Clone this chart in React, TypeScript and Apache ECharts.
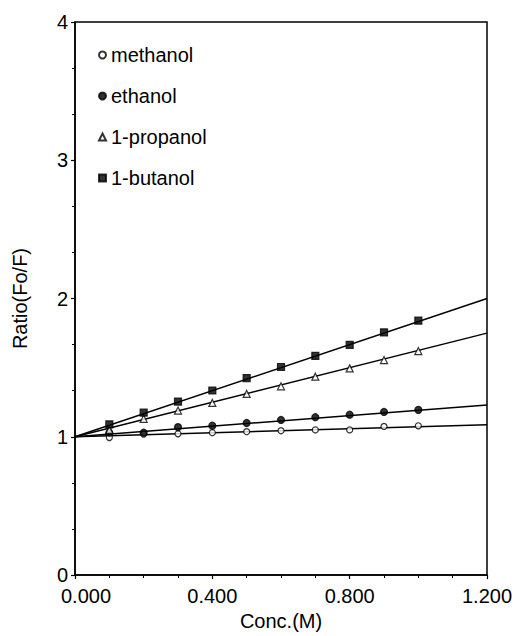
import React, { useEffect, useRef } from "react";
import * as echarts from "echarts";

const conc = [0.1, 0.2, 0.3, 0.4, 0.5, 0.6, 0.7, 0.8, 0.9, 1.0];
const methanol = [0.995, 1.02, 1.022, 1.03, 1.037, 1.044, 1.05, 1.05, 1.075, 1.08];
const ethanol = [1.03, 1.03, 1.07, 1.08, 1.1, 1.122, 1.142, 1.16, 1.18, 1.195];
const propanol = [1.05, 1.13, 1.19, 1.245, 1.31, 1.365, 1.435, 1.495, 1.555, 1.62];
const butanol = [1.09, 1.175, 1.255, 1.335, 1.425, 1.505, 1.585, 1.665, 1.755, 1.84];

// fitted straight lines: value at conc 0 and at conc 1.2
const fitStart = [1.0, 1.0, 1.0, 1.0];
const fitEnd = [1.087, 1.23, 1.75, 2.0];
const fitRange = [0, 1.2];

const seriesNames = ["methanol", "ethanol", "1-propanol", "1-butanol"];
const xTicks = [0, 0.4, 0.8, 1.2];
const yTicks = [0, 1, 2, 3, 4];

const FONT = "Liberation Sans";

export default function App() {
  const ref = useRef<HTMLDivElement>(null);
  useEffect(() => {
    if (!ref.current) return;
    const chart = echarts.init(ref.current, null, { renderer: "svg" });
    const allData = [methanol, ethanol, propanol, butanol];
    const symbols = ["circle", "circle", "triangle", "rect"];
    const sizes = [6, 7, 7, 7];
    const fills = ["#ffffff", "#000000", "#ffffff", "#000000"];
    const lineSeries = seriesNames.map((n, i) => ({
      name: n + "-fit",
      type: "line",
      data: [
        [fitRange[0], fitStart[i]],
        [fitRange[1], fitEnd[i]],
      ],
      symbol: "none",
      lineStyle: { color: "#000", width: 1.5 },
      z: 2,
      silent: true,
    }));
    const scatterSeries = seriesNames.map((n, i) => ({
      name: n,
      type: "scatter",
      data: conc.map((c, j) => [c, allData[i][j]]),
      symbol: symbols[i],
      symbolSize: sizes[i],
      itemStyle: { color: fills[i], borderColor: "#000", borderWidth: 1.2 },
      z: 3,
    }));
    chart.setOption({
      animation: false,
      backgroundColor: "#fff",
      textStyle: { fontFamily: FONT },
      grid: {
        left: 75,
        right: 32,
        top: 22,
        bottom: 51,
        show: true,
        borderColor: "#000",
        borderWidth: 1.5,
        backgroundColor: "transparent",
      },
      legend: {
        orient: "vertical",
        left: 98,
        top: 45,
        padding: 0,
        itemWidth: 7,
        itemHeight: 7,
        itemGap: 21,
        textStyle: { fontSize: 20, color: "#000", fontFamily: FONT, lineHeight: 20 },
        data: seriesNames.map((n, i) => ({ name: n, icon: symbols[i] })),
      },
      xAxis: {
        type: "value",
        min: xTicks[0],
        max: xTicks[xTicks.length - 1],
        interval: 0.4,
        name: "Conc.(M)",
        nameLocation: "middle",
        nameGap: 31,
        nameTextStyle: { fontSize: 20, color: "#000", fontFamily: FONT },
        axisLine: { lineStyle: { color: "#000", width: 1.5 } },
        axisTick: { show: true, inside: false, length: 4, lineStyle: { color: "#000", width: 1.2 } },
        minorTick: { show: true, splitNumber: 4, length: 3, lineStyle: { color: "#000", width: 1 } },
        splitLine: { show: false },
        axisLabel: {
          fontSize: 20,
          color: "#000",
          fontFamily: FONT,
          margin: 11,
          formatter: (v: number) => (v === 0 ? "{first|" + v.toFixed(3) + "}" : v.toFixed(3)),
          rich: { first: { fontSize: 20, fontFamily: FONT, color: "#000", padding: [0, 0, 0, 22] } },
        },
      },
      yAxis: {
        type: "value",
        min: yTicks[0],
        max: yTicks[yTicks.length - 1],
        interval: 1,
        name: "Ratio(Fo/F)",
        nameLocation: "middle",
        nameGap: 45,
        nameTextStyle: { fontSize: 20, color: "#000", fontFamily: FONT },
        axisLine: { show: true, lineStyle: { color: "#000", width: 1.5 } },
        axisTick: { show: true, inside: false, length: 4, lineStyle: { color: "#000", width: 1.2 } },
        minorTick: { show: true, splitNumber: 3, length: 3, lineStyle: { color: "#000", width: 1 } },
        splitLine: { show: false },
        axisLabel: { fontSize: 20, color: "#000", fontFamily: FONT, margin: 7 },
      },
      series: [...lineSeries, ...scatterSeries],
    });
    return () => chart.dispose();
  }, []);
  return (
    <div
      ref={ref}
      style={{ position: "absolute", left: 0, top: 0, width: 519, height: 636 }}
    />
  );
}
